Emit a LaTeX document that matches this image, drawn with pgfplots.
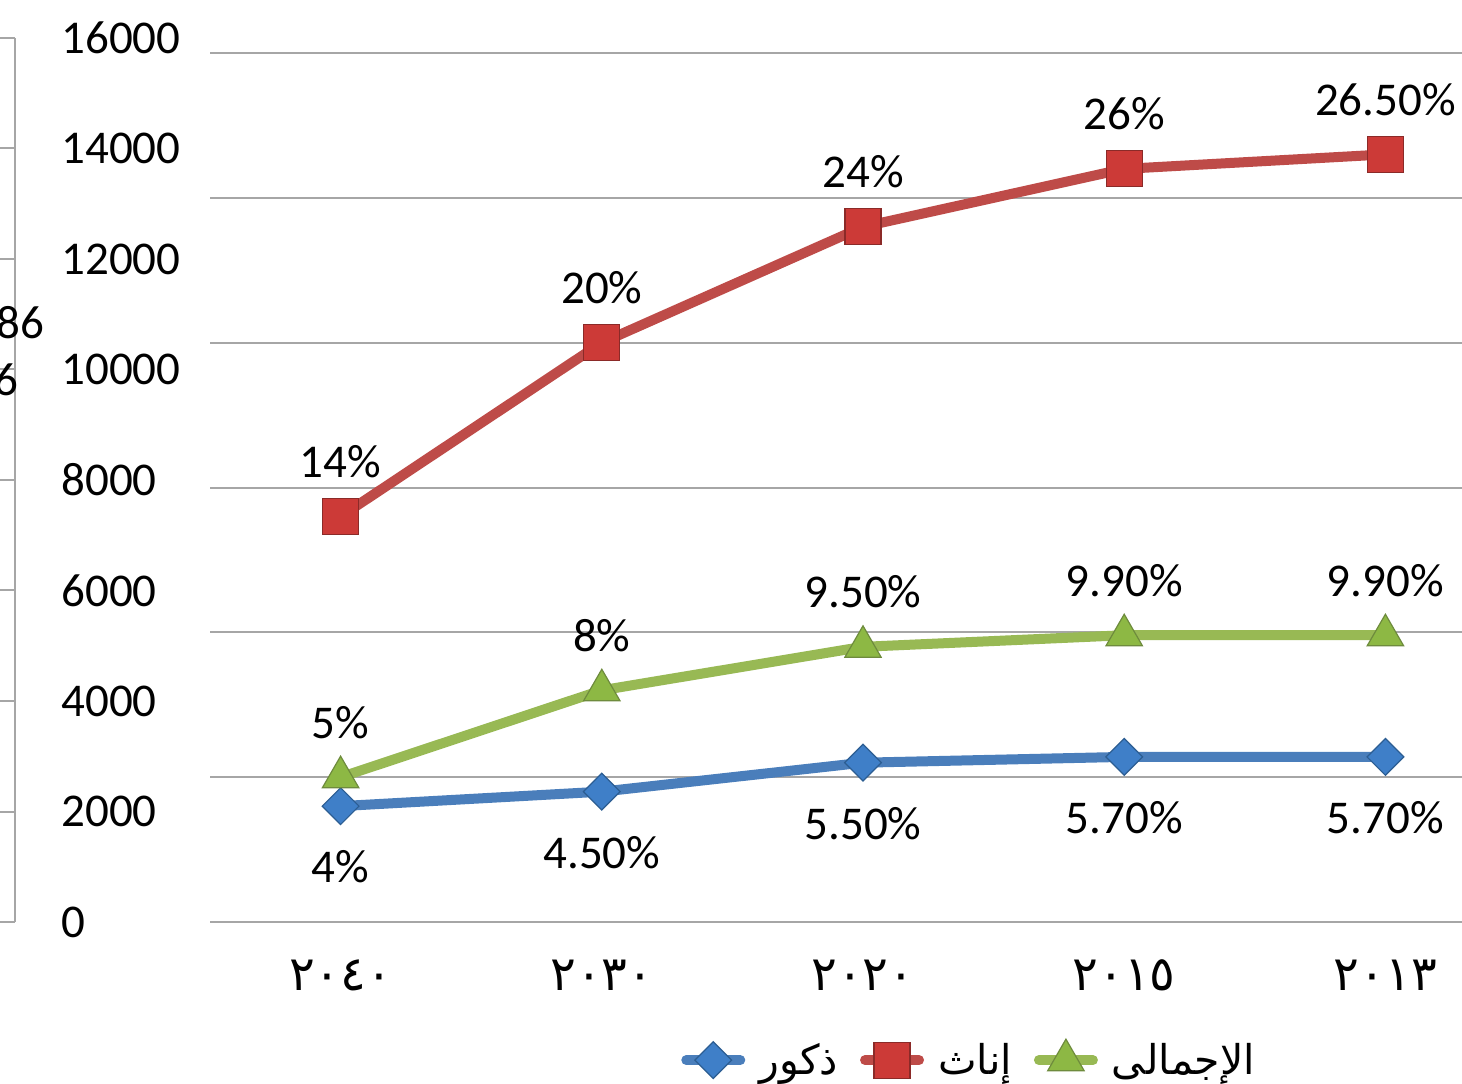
\documentclass[border=0pt]{standalone}
\usepackage{pgfplots}
\pgfplotsset{compat=1.18}
\usepackage{fontspec}
\setmainfont{Carlito}
\newfontfamily\arabicfont[Script=Arabic]{DejaVu Sans}
\TeXXeTstate=1

\definecolor{blueL}{HTML}{4A7EBB}
\definecolor{blueM}{HTML}{3F7FC8}
\definecolor{blueD}{HTML}{2C5D92}
\definecolor{redL}{HTML}{BE4B48}
\definecolor{redM}{HTML}{CC3A37}
\definecolor{redD}{HTML}{8B2A28}
\definecolor{greenL}{HTML}{98B954}
\definecolor{greenM}{HTML}{8DB844}
\definecolor{greenD}{HTML}{6E8B3D}
\definecolor{gridc}{HTML}{A6A6A6}

\newcommand{\lblfont}{\fontsize{23.5}{28}\selectfont}

\begin{document}
\begin{tikzpicture}
% 1 px of the reference = 0.5pt

% stray value axis on the far left (0 - 16000)
\begin{axis}[
  at={(7.5pt,80.5pt)}, anchor=south east,
  scale only axis, width=1pt, height=442pt,
  xmin=0, xmax=1, ymin=0, ymax=16000,
  axis x line=none, axis y line*=right,
  ytick={0,2000,...,16000}, scaled y ticks=false,
  tick align=inside, major tick length=7.5pt,
  axis line style={gridc, line width=1pt},
  tick style={gridc, line width=1pt},
  yticklabel style={font=\lblfont, anchor=west, inner sep=0pt, xshift=23pt},
  /pgf/number format/1000 sep={},
  /pgf/number format/assume math mode=true,
]
\addplot[draw=none] coordinates {(0,0) (1,16000)};
\end{axis}

% main chart (percentages)
\begin{axis}[
  at={(105pt,80.5pt)}, anchor=south west,
  scale only axis, width=653pt, height=434.5pt,
  xmin=-0.5, xmax=4.5, ymin=0, ymax=30,
  ytick={0,5,...,30}, yticklabels={},
  ymajorgrids, grid style={gridc, line width=1pt},
  axis line style={draw=none}, major tick length=0pt,
  xtick={0,1,2,3,4},
  xticklabels={٢٠٤٠,٢٠٣٠,٢٠٢٠,٢٠١٥,٢٠١٣},
  xticklabel style={font=\arabicfont\fontsize{24}{28}\selectfont, anchor=center, inner sep=0pt, yshift=-26.5pt},
  clip=false,
  nodes near coords, point meta=explicit symbolic,
  every node near coord/.append style={font=\lblfont, black, anchor=center, inner sep=0pt},
  legend columns=3,
  legend style={at={(axis description cs:0.582,-0.159)}, anchor=center,
    draw=none, fill=none, font=\arabicfont\fontsize{20.5}{24}\selectfont,
    /tikz/every odd column/.append style={column sep=5pt},
    /tikz/every even column/.append style={column sep=9pt}},
  legend image code/.code={\draw[mark repeat=2,mark phase=2,line cap=round,#1]
    plot coordinates {(0pt,0pt) (13.5pt,0pt) (27pt,0pt)};},
]
\addplot[blueL, line width=5pt, mark=square*, mark size=6.5pt,
  mark options={rotate=45, fill=blueM, draw=blueD, line width=0.6pt},
  nodes near coords style={yshift=-30.5pt}]
  coordinates {(0,4) [4\%] (1,4.5) [4.50\%] (2,5.5) [5.50\%] (3,5.7) [5.70\%] (4,5.7) [5.70\%]};
\addlegendentry{\beginR ذكور\endR}

\addplot[redL, line width=5pt, mark=square*, mark size=9pt,
  mark options={fill=redM, draw=redD, line width=0.6pt},
  nodes near coords style={yshift=27.5pt}]
  coordinates {(0,14) [14\%] (1,20) [20\%] (2,24) [24\%] (3,26) [26\%] (4,26.5) [26.50\%]};
\addlegendentry{\beginR إناث\endR}

\addplot[greenL, line width=5pt, mark=triangle*, mark size=10.5pt,
  mark options={fill=greenM, draw=greenD, line width=0.6pt},
  nodes near coords style={yshift=27.5pt}]
  coordinates {(0,5) [5\%] (1,8) [8\%] (2,9.5) [9.50\%] (3,9.9) [9.90\%] (4,9.9) [9.90\%]};
\addlegendentry{\beginR الإجمالى\endR}
\end{axis}

% cut-off labels at the left edge
\node[anchor=east, inner sep=0pt, font=\lblfont] at (22.5pt,380pt) {86};
\node[anchor=east, inner sep=0pt, font=\lblfont] at (9.5pt,351.5pt) {6};

\pgfresetboundingbox
\useasboundingbox (0pt,0pt) rectangle (731pt,541.5pt);
\end{tikzpicture}
\end{document}
